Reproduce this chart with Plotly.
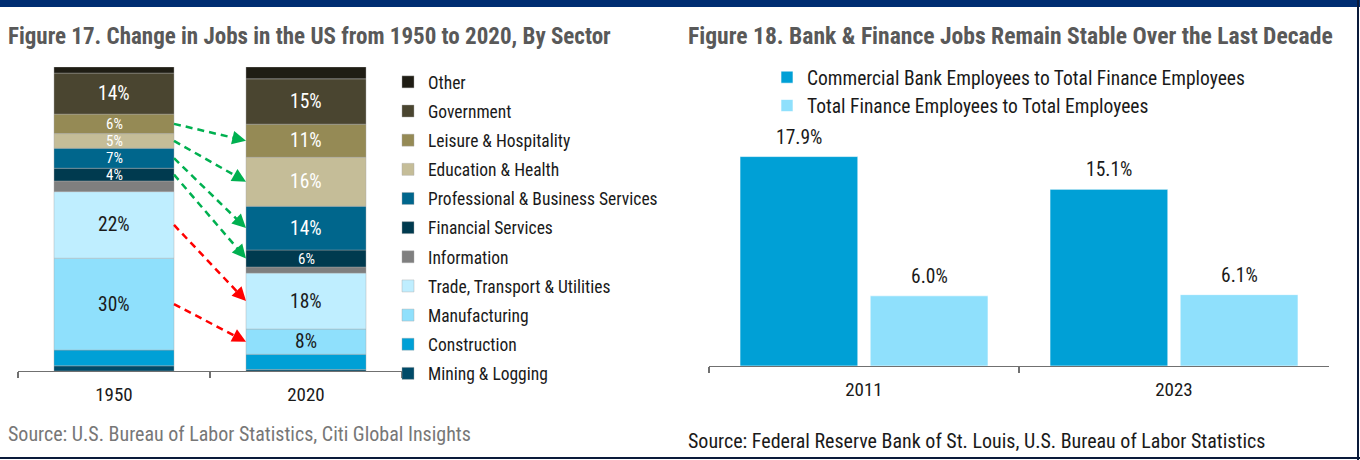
import plotly.graph_objects as go

# ---------------- data ----------------
years = ["1950", "2020"]
sectors = [
    "Mining & Logging", "Construction", "Manufacturing",
    "Trade, Transport & Utilities", "Information", "Financial Services",
    "Professional & Business Services", "Education & Health",
    "Leisure & Hospitality", "Government", "Other",
]
share_1950 = [1.7, 5.2, 30.2, 21.9, 3.5, 4.2, 6.6, 4.8, 6.4, 13.5, 2.0]
share_2020 = [0.5, 5.0, 8.3, 18.4, 2.0, 5.6, 14.4, 16.1, 10.9, 14.9, 3.9]
label_1950 = ["", "", "30%", "22%", "", "4%", "7%", "5%", "6%", "14%", ""]
label_2020 = ["", "", "8%", "18%", "", "6%", "14%", "16%", "11%", "15%", ""]

growing_sectors = ["Leisure & Hospitality", "Education & Health",
                   "Professional & Business Services", "Financial Services"]
shrinking_sectors = ["Trade, Transport & Utilities", "Manufacturing"]

fin_years = ["2011", "2023"]
commercial_bank_share = [17.9, 15.1]
finance_share = [6.0, 6.1]
fin_series = ["Commercial Bank Employees to Total Finance Employees",
              "Total Finance Employees to Total Employees"]

# ---------------- styles ----------------
sector_colors = ["#004a68", "#00a0d6", "#8fe0fc", "#bfeeff", "#7f7f7f",
                 "#003a4f", "#00668c", "#c5bd98", "#958a55", "#4a4530", "#1f1d14"]
label_colors = ["white", "white", "#1a1a1a", "#1a1a1a", "white",
                "white", "white", "white", "white", "white", "white"]
fin_colors = ["#00a0d6", "#8fe0fc"]

FONT = "Liberation Sans Narrow, Arial Narrow, Roboto Condensed, Liberation Sans, sans-serif"
W, H = 1360, 460


def px(x):
    return x / W


def py(y):
    return 1 - y / H


BAR_W = 0.625
FIN_W = 0.38
FIN_OFF = [-0.4, 0.02]
LABEL_SIZE = 19.5
SMALL_LABEL_SIZE = 15
PX_PER_PCT = (371 - 67) / 100.0

fig = go.Figure()
shapes = []
annotations = []

# ---------------- left: stacked sectors ----------------
base_1950, base_2020 = [], []
acc1, acc2 = 0.0, 0.0
for v1, v2 in zip(share_1950, share_2020):
    base_1950.append(acc1)
    base_2020.append(acc2)
    acc1 += v1
    acc2 += v2

n = len(sectors)
for i, name in enumerate(sectors):
    fig.add_trace(go.Bar(
        x=years, y=[share_1950[i], share_2020[i]],
        base=[base_1950[i], base_2020[i]],
        width=BAR_W, name=name,
        marker=dict(color=sector_colors[i], line=dict(color="rgba(170,170,170,0.7)", width=0.6)),
        xaxis="x", yaxis="y", legend="legend", legendgroup=name,
        legendrank=n - i, hoverinfo="skip",
    ))
    for k, (base, vals, labels) in enumerate(((base_1950, share_1950, label_1950),
                                              (base_2020, share_2020, label_2020))):
        if labels[i]:
            size = LABEL_SIZE if vals[i] * PX_PER_PCT >= 22 else SMALL_LABEL_SIZE
            annotations.append(dict(
                xref="x", yref="y", x=k, y=base[i] + vals[i] / 2, text=labels[i],
                showarrow=False, xanchor="center", yanchor="middle", borderpad=0,
                font=dict(size=size, color=label_colors[i], family=FONT),
            ))


def mid(base, vals, name):
    k = sectors.index(name)
    return base[k] + vals[k] / 2


x0 = BAR_W / 2
x1 = 1 - BAR_W / 2
for names, col in ((growing_sectors, "#00b050"), (shrinking_sectors, "#ff0000")):
    for name in names:
        ya = mid(base_1950, share_1950, name)
        yb = mid(base_2020, share_2020, name)
        shapes.append(dict(type="line", xref="x", yref="y", x0=x0, y0=ya,
                           x1=x1 - 0.03, y1=yb + (ya - yb) * 0.03 / (x1 - x0),
                           line=dict(color=col, width=2.5, dash="7px,5px")))
        t = 0.12
        annotations.append(dict(
            xref="x", yref="y", axref="x", ayref="y",
            x=x1, y=yb, ax=x1 - t * (x1 - x0), ay=yb + t * (ya - yb),
            text="", showarrow=True, arrowhead=2, arrowsize=1.1,
            arrowwidth=2.5, arrowcolor=col, standoff=0,
        ))

# ---------------- right: grouped finance bars ----------------
for j, (name, vals) in enumerate(zip(fin_series, [commercial_bank_share, finance_share])):
    fig.add_trace(go.Bar(
        x=fin_years, y=vals, name=name, width=FIN_W, offset=FIN_OFF[j],
        marker=dict(color=fin_colors[j], line=dict(color="rgba(255,255,255,0.6)", width=1)),
        xaxis="x2", yaxis="y2", legend="legend2", hoverinfo="skip",
    ))
    for k, v in enumerate(vals):
        annotations.append(dict(
            xref="x2", yref="y2", x=k + FIN_OFF[j] + FIN_W / 2, y=v,
            text=f"{v:.1f}%", showarrow=False, yanchor="bottom", yshift=6,
            font=dict(size=LABEL_SIZE, color="#1a1a1a", family=FONT),
        ))

# ---------------- titles & sources ----------------
title_font = dict(size=23, color="#595959", family=FONT)
annotations += [
    dict(xref="paper", yref="paper", x=px(6), y=py(36), xanchor="left", yanchor="middle",
         text="<b>Figure 17. Change in Jobs in the US from 1950 to 2020, By Sector</b>",
         showarrow=False, font=title_font),
    dict(xref="paper", yref="paper", x=px(686), y=py(36), xanchor="left", yanchor="middle",
         text="<b>Figure 18. Bank &amp; Finance Jobs Remain Stable Over the Last Decade</b>",
         showarrow=False, font=dict(size=23.6, color="#595959", family=FONT)),
    dict(xref="paper", yref="paper", x=px(6), y=py(434), xanchor="left", yanchor="middle",
         text="Source: U.S. Bureau of Labor Statistics, Citi Global Insights",
         showarrow=False, font=dict(size=20, color="#777777", family=FONT)),
    dict(xref="paper", yref="paper", x=px(686), y=py(441), xanchor="left", yanchor="middle",
         text="Source: Federal Reserve Bank of St. Louis, U.S. Bureau of Labor Statistics",
         showarrow=False, font=dict(size=20, color="#1a1a1a", family=FONT)),
]

# frame: top band, right edge, bottom rule
shapes += [
    dict(type="rect", xref="paper", yref="paper", x0=0, x1=1, y0=py(7), y1=1,
         fillcolor="#002d72", line=dict(width=0), layer="above"),
    dict(type="line", xref="paper", yref="paper", x0=px(1358), x1=px(1358), y0=0, y1=1,
         line=dict(color="#0a1a3a", width=2)),
    dict(type="line", xref="paper", yref="paper", x0=0, x1=1, y0=py(458), y1=py(458),
         line=dict(color="#0a1a3a", width=2)),
]

axis_common = dict(showgrid=False, zeroline=False, showline=True, linecolor="#707070",
                   linewidth=1.3, ticks="outside", ticklen=6, tickcolor="#707070",
                   tickwidth=1.3, tickson="boundaries", type="category",
                   tickfont=dict(size=19, color="#1a1a1a", family=FONT),
                   ticklabelstandoff=6, fixedrange=True)

fig.update_layout(
    width=W, height=H, margin=dict(l=0, r=0, t=0, b=0),
    paper_bgcolor="white", plot_bgcolor="white",
    barmode="overlay", showlegend=True,
    font=dict(family=FONT, size=16, color="#1a1a1a"),
    xaxis=dict(domain=[px(18), px(402)], anchor="y", range=[-0.5, 1.5], **axis_common),
    yaxis=dict(domain=[py(371), py(67)], anchor="x", range=[0, 100], visible=False, fixedrange=True),
    xaxis2=dict(domain=[px(709), px(1329)], anchor="y2", range=[-0.5, 1.5], **axis_common),
    yaxis2=dict(domain=[py(366), py(132)], anchor="x2", range=[0, 20], visible=False, fixedrange=True),
    legend=dict(x=px(388), y=py(64), xanchor="left", yanchor="top",
                traceorder="grouped", tracegroupgap=3.4,
                font=dict(size=17.5, color="#1a1a1a", family=FONT),
                bgcolor="rgba(0,0,0,0)", itemwidth=30),
    legend2=dict(x=px(767), y=py(58), xanchor="left", yanchor="top",
                 traceorder="normal",
                 font=dict(size=19.5, color="#1a1a1a", family=FONT),
                 bgcolor="rgba(0,0,0,0)", itemwidth=30),
    shapes=shapes, annotations=annotations,
)

fig.write_html("out.html", config={"displayModeBar": False, "staticPlot": True},
               post_script="document.body.style.margin='0px';")
